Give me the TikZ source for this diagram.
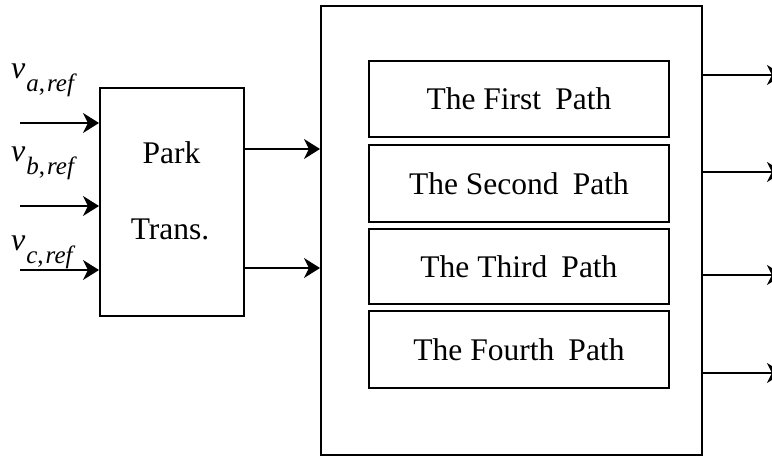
\documentclass[tikz,border=0pt]{standalone}
\usepackage{fontspec}
\setmainfont{Liberation Serif}
\usetikzlibrary{arrows.meta}
\newcommand{\vlab}[1]{{\fontsize{32}{36}\selectfont\textit{v}}\kern1pt\raisebox{-13pt}{\fontsize{25}{28}\selectfont\textit{#1},\kern2pt\textit{ref}}}
\begin{document}
\begin{tikzpicture}[x=1pt,y=-1pt,
  box/.style={draw,line width=2pt,inner sep=0pt,font=\fontsize{31.5}{36}\selectfont},
  lbl/.style={inner sep=0pt,font=\fontsize{31.5}{36}\selectfont},
  arr/.style={line width=2pt,-{Stealth[length=16pt,width=20pt,inset=5pt]}}]
\useasboundingbox (0,0) rectangle (772,457);
\node[box,minimum width=381pt,minimum height=449pt] (big) at (511.5,230.5) {};
\node[box,minimum width=300pt,minimum height=76pt] (p1) at (519,99) {The First\hspace{0.45em}Path};
\node[box,minimum width=300pt,minimum height=77pt] (p2) at (519,183.5) {The Second\hspace{0.45em}Path};
\node[box,minimum width=300pt,minimum height=75pt] (p3) at (519,266.5) {The Third\hspace{0.45em}Path};
\node[box,minimum width=300pt,minimum height=77pt] (p4) at (519,349.5) {The Fourth\hspace{0.45em}Path};
\node[box,minimum width=144pt,minimum height=228pt] (park) at (172,202) {};
\node[lbl,anchor=base] (pk1) at (171.5,164) {Park};
\node[lbl,anchor=base] (pk2) at (170,240) {Trans.};
\node[lbl,anchor=base west] (va) at (11,79) {\vlab{a}};
\node[lbl,anchor=base west] (vb) at (11,162) {\vlab{b}};
\node[lbl,anchor=base west] (vc) at (11,251) {\vlab{c}};
\coordinate (ia) at (20,123);
\coordinate (ib) at (20,206);
\coordinate (ic) at (20,270);
\draw[arr] (ia) -- (ia -| park.west);
\draw[arr] (ib) -- (ib -| park.west);
\draw[arr] (ic) -- (ic -| park.west);
\coordinate (o1) at (243,149);
\coordinate (o2) at (243,268);
\draw[arr] (o1) -- (o1 -| big.west);
\draw[arr] (o2) -- (o2 -| big.west);
\foreach \n/\y in {1/75,2/172,3/275,4/373}{
  \coordinate (e\n) at (783,\y);
  \draw[arr] (big.east |- e\n) -- (e\n);
}
\end{tikzpicture}
\end{document}
